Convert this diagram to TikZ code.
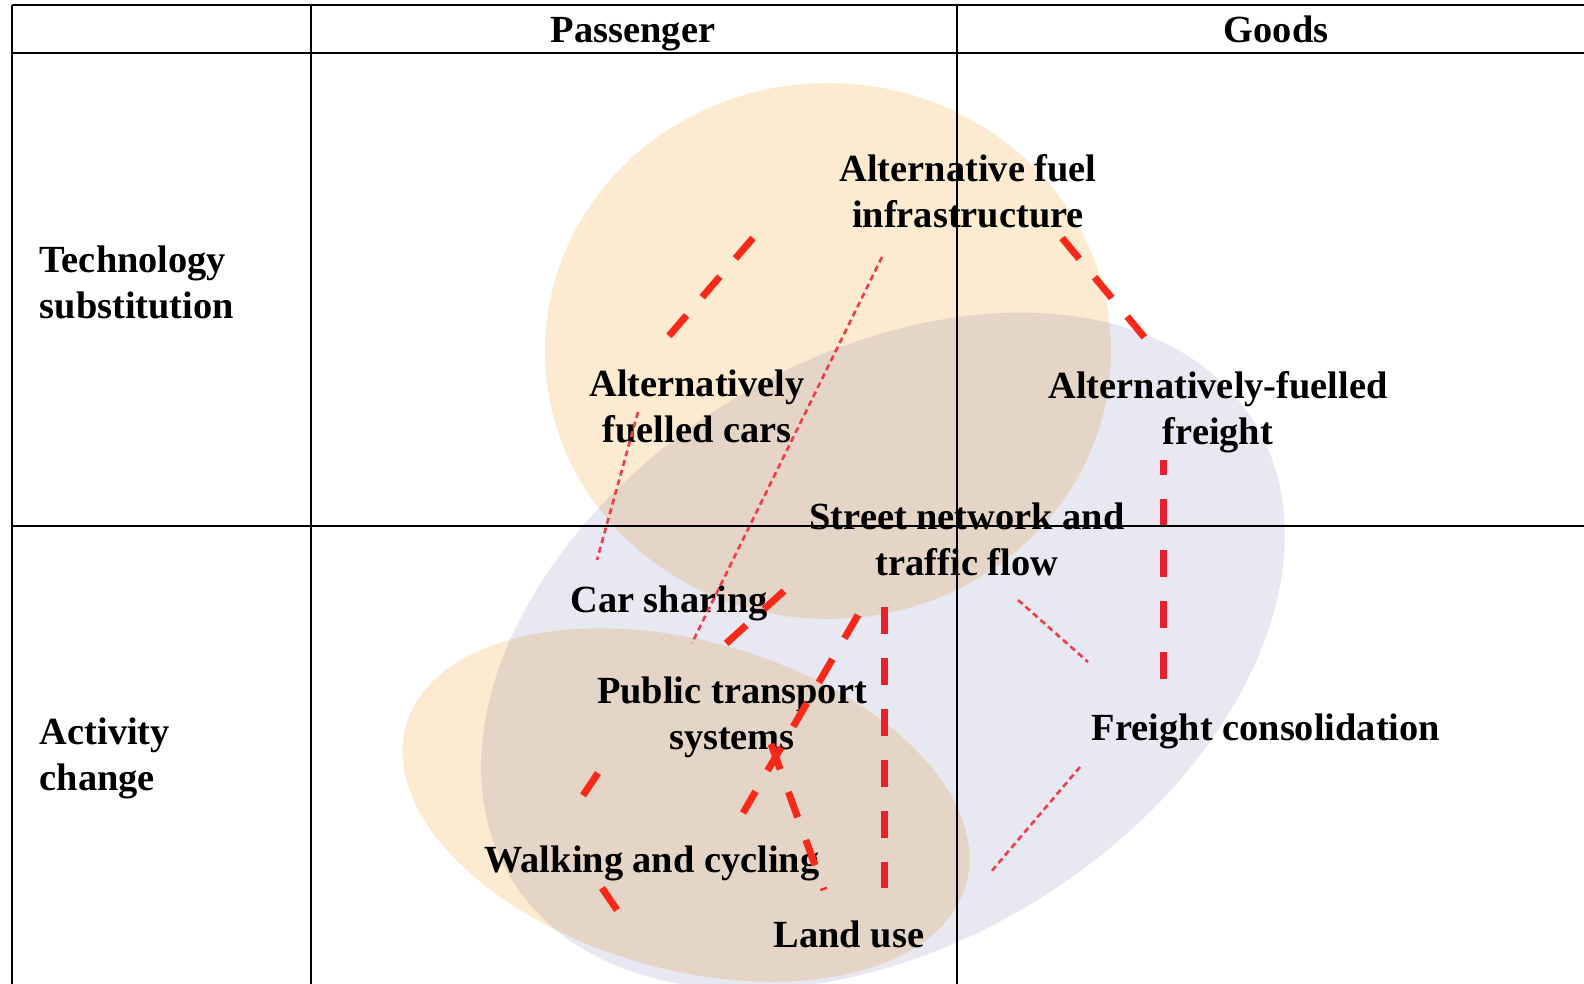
\documentclass[tikz,border=0pt]{standalone}
\usepackage{fontspec}
\setmainfont{Liberation Serif}
\definecolor{ellorange}{RGB}{252,235,208}
\definecolor{ellblue}{RGB}{232,232,243}
\definecolor{linkred}{RGB}{250,40,25}
\definecolor{linkcrimson}{RGB}{232,32,45}
\definecolor{linkpink}{RGB}{240,60,70}

\begin{document}
\begin{tikzpicture}[x=0.25pt,y=-0.25pt,
    lbl/.style={font=\fontsize{9.6}{11.4}\selectfont\bfseries, inner sep=0pt, align=center},
    strong/.style={draw=linkred, line width=1.75pt, dash pattern=on 6.75pt off 6pt},
    weak/.style={draw=linkpink, line width=0.65pt, dash pattern=on 1.5pt off 1pt},
    tableline/.style={line width=0.5pt}]
    \clip (0,0) rectangle (1584,984);
    \fill[white] (0,0) rectangle (1584,984);

    \begin{scope}[blend group=multiply]
        \fill[ellblue, rotate around={31.6:(883,651)}] (883,651) ellipse [x radius=436, y radius=293];
        \fill[ellorange] (828,351) ellipse [x radius=283, y radius=268];
        \fill[ellorange, rotate around={-15.9:(686,805)}] (686,805) ellipse [x radius=291, y radius=164];
    \end{scope}

    \node[lbl, anchor=base] (pass) at (633,43) {Passenger};
    \node[lbl, anchor=base] (goods) at (1276,43) {Goods};
    \node[lbl, anchor=north west, align=left] (tech) at (39,245) {Technology\\substitution};
    \node[lbl, anchor=north west, align=left] (act) at (39,717) {Activity\\change};
    \node[lbl, anchor=north] (infra) at (968,154) {Alternative fuel\\infrastructure};
    \node[lbl, anchor=north] (afcars) at (697,369) {Alternatively\\fuelled cars};
    \node[lbl, anchor=north] (affreight) at (1218,371) {Alternatively-fuelled\\freight};
    \node[lbl, anchor=north] (street) at (967,502) {Street network and\\traffic flow};
    \node[lbl, anchor=base] (carshare) at (669,612) {Car sharing};
    \node[lbl, anchor=north] (pubtrans) at (732,676) {Public transport\\systems};
    \node[lbl, anchor=base] (walkcyc) at (652,872) {Walking and cycling};
    \node[lbl, anchor=base] (landuse) at (849,947) {Land use};
    \node[lbl, anchor=base] (freightcon) at (1266,740) {Freight consolidation};

    \coordinate (infra-cars) at (753,238);
    \coordinate (cars-infra) at (668,337);
    \coordinate (infra-freight) at (1062,238);
    \coordinate (freight-infra) at (1145,338);
    \coordinate (freight-cons) at (1163,460);
    \coordinate (cons-freight) at (1163,680);
    \coordinate (street-land) at (884,607);
    \coordinate (land-street) at (884,888);
    \coordinate (share-pub) at (784,591);
    \coordinate (pub-share) at (720,649);
    \coordinate (street-walk) at (858,615);
    \coordinate (walk-street) at (743,813);
    \coordinate (pub-land) at (771,744);
    \coordinate (land-pub) at (824,890);
    \coordinate (pub-walk) at (598,773);
    \coordinate (walk-pub) at (582,797);
    \coordinate (walk-land) at (602,888);
    \coordinate (land-walk) at (617,910);
    \coordinate (infra-pub) at (882,257);
    \coordinate (pub-infra) at (692,643);
    \coordinate (cars-share) at (638,412);
    \coordinate (share-cars) at (597,560);
    \coordinate (street-cons) at (1018,600);
    \coordinate (cons-street) at (1088,662);
    \coordinate (cons-land) at (1080,767);
    \coordinate (land-cons) at (990,873);

    \draw[strong] (infra-cars) -- (cars-infra);
    \draw[strong] (infra-freight) -- (freight-infra);
    \draw[strong, draw=linkcrimson, dash phase=3pt] (freight-cons) -- (cons-freight);
    \draw[strong, draw=linkcrimson] (street-land) -- (land-street);
    \draw[strong] (share-pub) -- (pub-share);
    \draw[strong] (street-walk) -- (walk-street);
    \draw[strong] (pub-land) -- (land-pub);
    \draw[strong] (pub-walk) -- (walk-pub);
    \draw[strong] (walk-land) -- (land-walk);
    \draw[weak] (infra-pub) -- (pub-infra);
    \draw[weak] (cars-share) -- (share-cars);
    \draw[weak] (street-cons) -- (cons-street);
    \draw[weak] (cons-land) -- (land-cons);

    \draw[tableline] (11.5,5) -- (1584,5);
    \draw[tableline] (11.5,53) -- (1584,53);
    \draw[tableline] (11.5,526) -- (1584,526);
    \draw[tableline] (11.5,5) -- (11.5,984);
    \draw[tableline] (310.5,5) -- (310.5,984);
    \draw[tableline] (957,5) -- (957,984);
\end{tikzpicture}
\end{document}
